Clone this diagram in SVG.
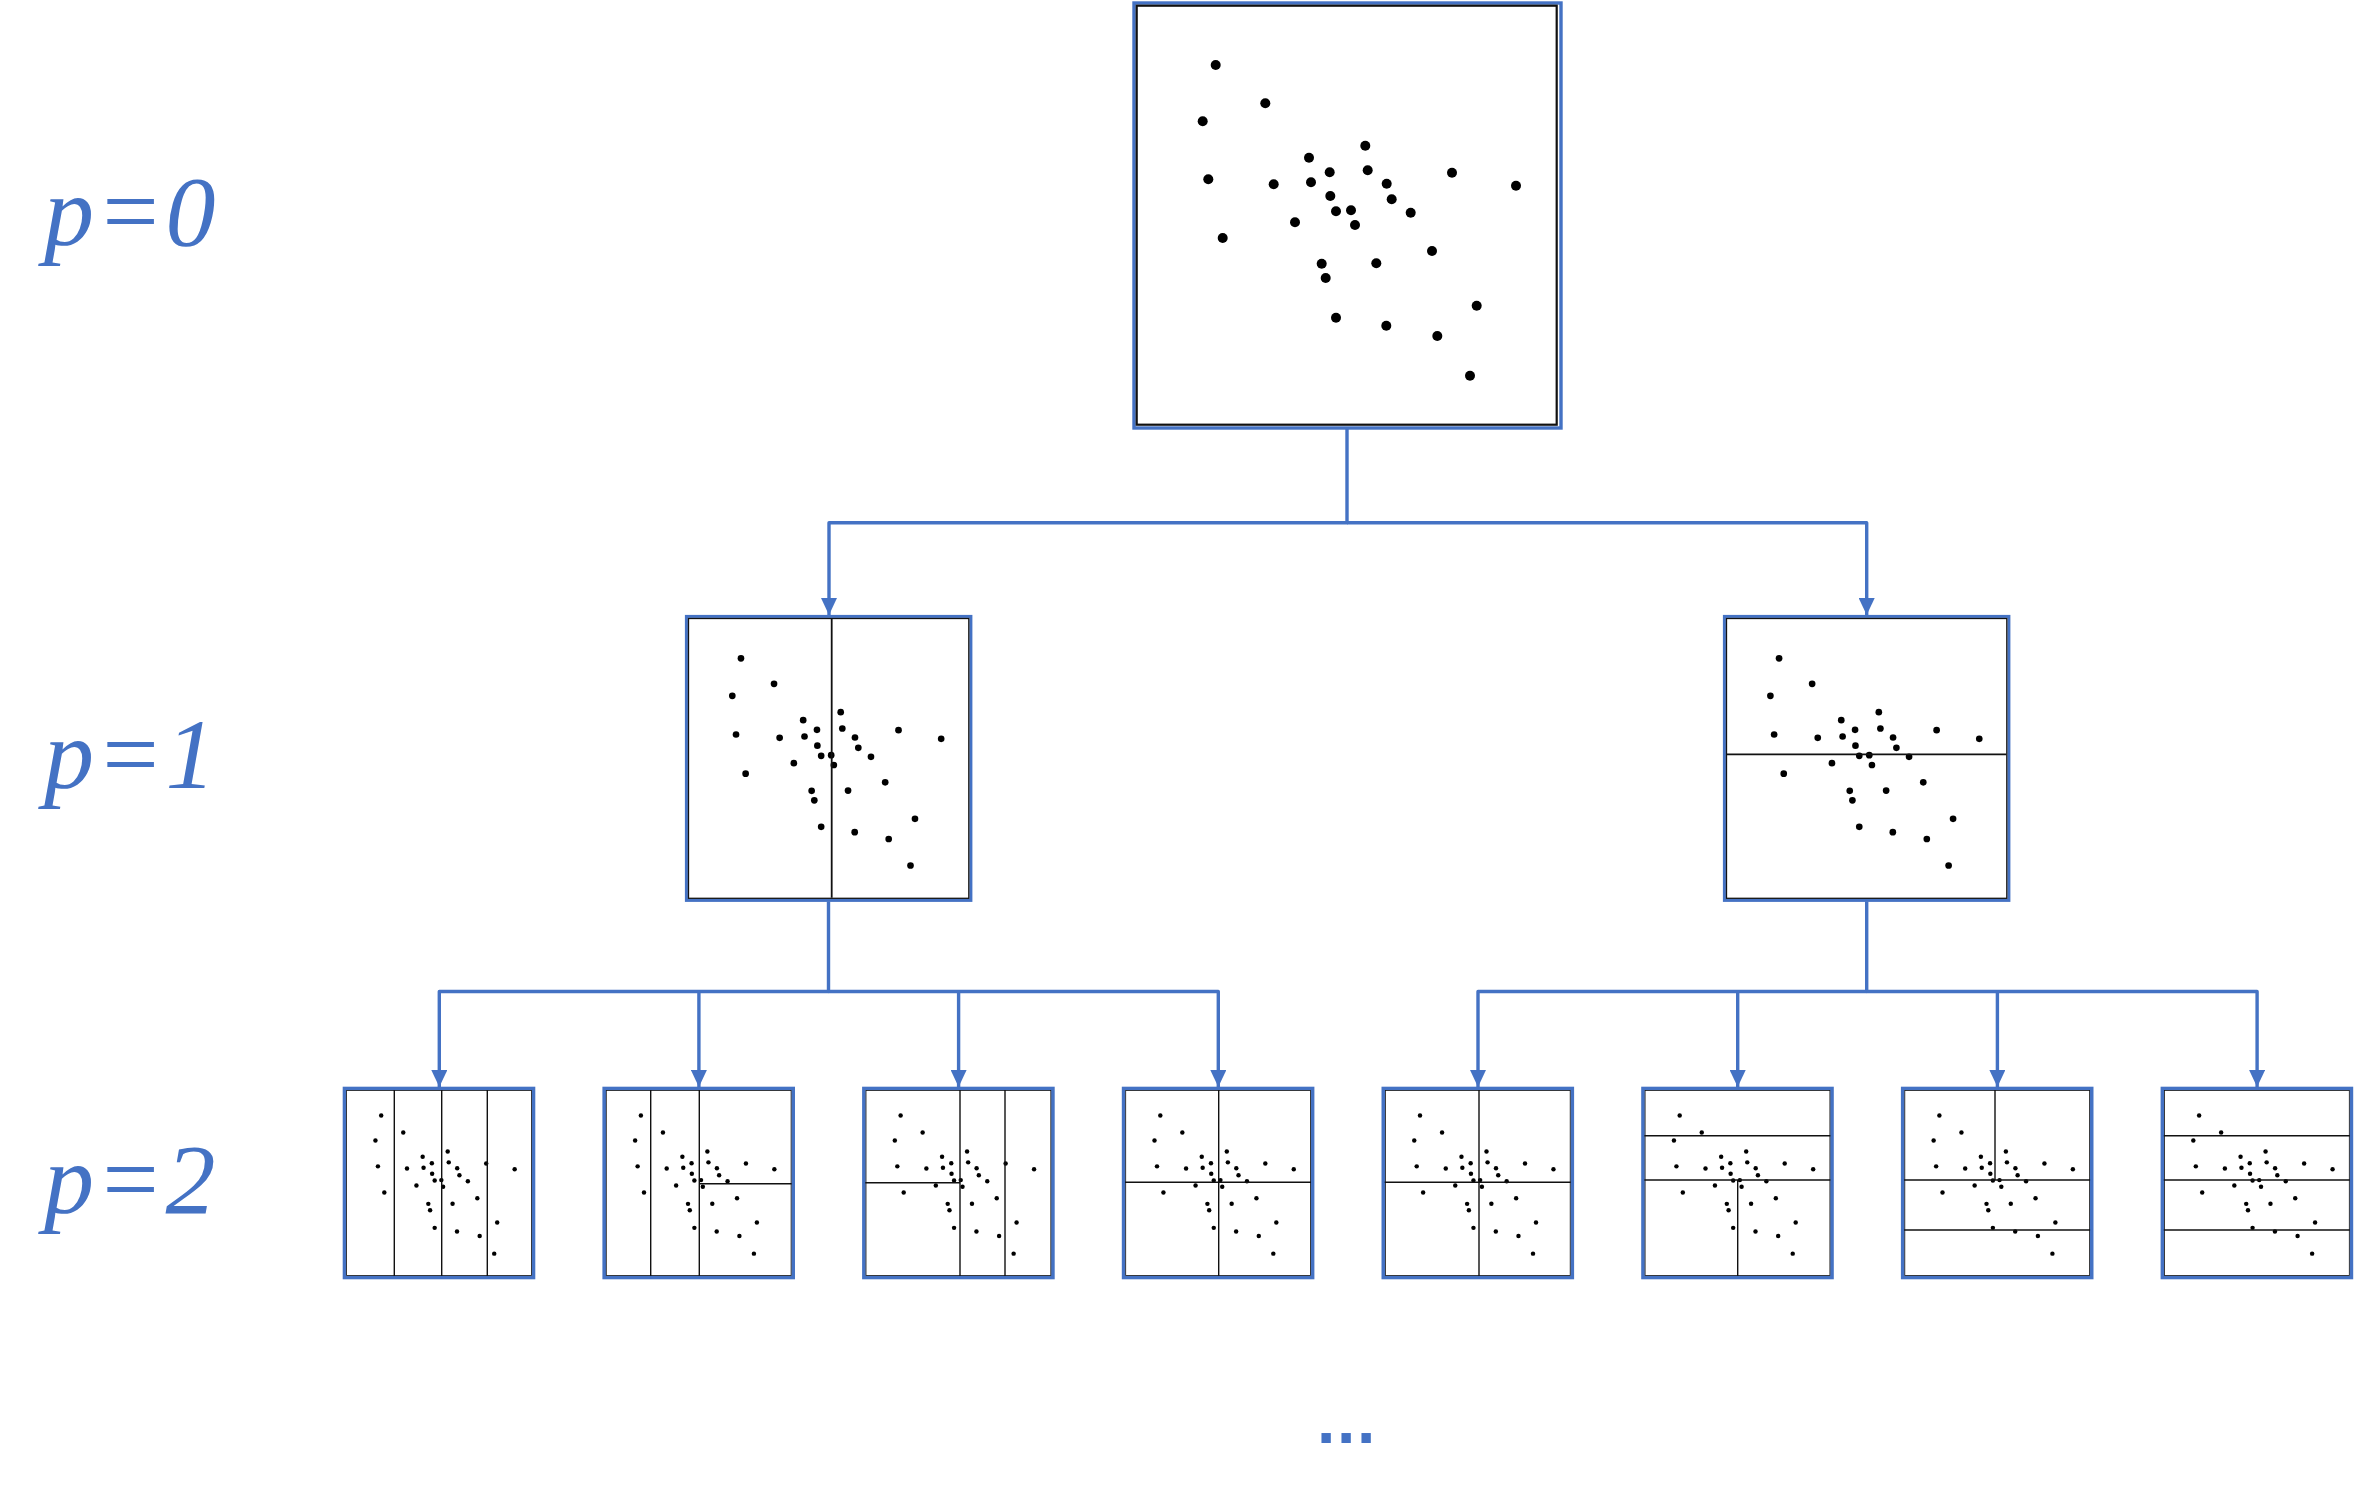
<svg xmlns="http://www.w3.org/2000/svg" width="2354" height="1505" viewBox="0 0 2354 1505">
<style>
.bg{fill:#ffffff}
.frame{fill:#ffffff;stroke:#4472C4}
.inner{fill:none;stroke:#111111}
.split{stroke:#111111;fill:none}
.conn{fill:none;stroke:#4472C4;stroke-width:3.4;stroke-linejoin:round}
.lbl{font-style:italic;font-size:100px;fill:#4472C4;letter-spacing:2px}
.dots{font-weight:bold;font-size:66px;fill:#4472C4;letter-spacing:1.7px}
</style>
<defs>
<marker id="arr" markerUnits="userSpaceOnUse" markerWidth="18" markerHeight="16" refX="17" refY="8" orient="auto">
<path d="M0,0 L17,8 L0,16 z" fill="#4472C4"/>
</marker>
<g id="scatter" fill="#000000">
<circle cx="81.7" cy="62" r="5"/>
<circle cx="131.3" cy="100.3" r="5"/>
<circle cx="68.7" cy="118.3" r="5"/>
<circle cx="175" cy="154.7" r="5"/>
<circle cx="195.7" cy="169.3" r="5"/>
<circle cx="74.3" cy="176.3" r="5"/>
<circle cx="139.7" cy="181.3" r="5"/>
<circle cx="177" cy="179.3" r="5"/>
<circle cx="196.3" cy="193" r="5"/>
<circle cx="202" cy="208.3" r="5"/>
<circle cx="217" cy="207.3" r="5"/>
<circle cx="221" cy="222" r="5"/>
<circle cx="161" cy="219.3" r="5"/>
<circle cx="88.7" cy="235" r="5"/>
<circle cx="187.7" cy="260.7" r="5"/>
<circle cx="191.7" cy="275" r="5"/>
<circle cx="202" cy="314.7" r="5"/>
<circle cx="231.3" cy="142.7" r="5"/>
<circle cx="233.7" cy="167.3" r="5"/>
<circle cx="318" cy="169.7" r="5"/>
<circle cx="382" cy="182.7" r="5"/>
<circle cx="252.7" cy="180.7" r="5"/>
<circle cx="257.7" cy="196.3" r="5"/>
<circle cx="276.7" cy="209.7" r="5"/>
<circle cx="298" cy="248" r="5"/>
<circle cx="242.3" cy="260.3" r="5"/>
<circle cx="342.7" cy="302.7" r="5"/>
<circle cx="252.3" cy="322.7" r="5"/>
<circle cx="303.3" cy="333" r="5"/>
<circle cx="336" cy="372.7" r="5"/>
</g>
</defs>
<rect class="bg" x="0" y="0" width="2354" height="1505"/>

<g id="labels">
<text class="lbl" x="44" y="245" font-family="Liberation Serif, serif">p=0</text>
<text class="lbl" x="44" y="788" font-family="Liberation Serif, serif">p=1</text>
<text class="lbl" x="44" y="1213" font-family="Liberation Serif, serif">p=2</text>
</g>

<g id="connectors">
<path class="conn" d="M1347 428 V522.7 H829 V615" marker-end="url(#arr)"/>
<path class="conn" d="M1347 522.7 H1866.7 V615" marker-end="url(#arr)"/>
<path class="conn" d="M828.5 901.5 V991.5 H439.3 V1087" marker-end="url(#arr)"/>
<path class="conn" d="M698.9 991.5 V1087" marker-end="url(#arr)"/>
<path class="conn" d="M958.6 991.5 V1087" marker-end="url(#arr)"/>
<path class="conn" d="M828.5 991.5 H1218.3 V1087" marker-end="url(#arr)"/>
<path class="conn" d="M1866.7 901.5 V991.5 H1478 V1087" marker-end="url(#arr)"/>
<path class="conn" d="M1737.7 991.5 V1087" marker-end="url(#arr)"/>
<path class="conn" d="M1997.4 991.5 V1087" marker-end="url(#arr)"/>
<path class="conn" d="M1866.7 991.5 H2257.1 V1087" marker-end="url(#arr)"/>
</g>

<g id="node-p0">
<rect class="frame" x="1134" y="3" width="427" height="425" stroke-width="3.4"/>
<rect class="inner" x="1136.7" y="5.7" width="420" height="419" stroke-width="2.2"/>
<use href="#scatter" transform="translate(1134,3)"/>
</g>

<g id="node-p1-a">
<rect class="frame" x="686.4" y="616.4" width="284.5" height="284" stroke-width="3"/>
<rect class="inner" x="688.5" y="618.5" width="280.3" height="279.8" stroke-width="1.3"/>
<use href="#scatter" transform="translate(686.5,617) scale(0.6667)"/>
<line class="split" x1="831.7" y1="618.7" x2="831.7" y2="897.8" stroke-width="1.8"/>
</g>

<g id="node-p1-b">
<rect class="frame" x="1724.4" y="616.4" width="284.5" height="284" stroke-width="3"/>
<rect class="inner" x="1726.5" y="618.5" width="280.3" height="279.8" stroke-width="1.3"/>
<use href="#scatter" transform="translate(1724.6,617) scale(0.6667)"/>
<line class="split" x1="1726.7" y1="754.3" x2="2006.3" y2="754.3" stroke-width="1.8"/>
</g>

<g id="node-p2-1">
<rect class="frame" x="344.5" y="1088.5" width="189" height="189" stroke-width="3.6"/>
<rect class="inner" x="346.6" y="1090.6" width="184.8" height="184.8" stroke-width="0.8"/>
<use href="#scatter" transform="translate(344.9,1088) scale(0.4444)"/>
<g class="split" stroke-width="1.4">
<line x1="394.3" y1="1090" x2="394.3" y2="1276"/>
<line x1="441.7" y1="1090" x2="441.7" y2="1276"/>
<line x1="487.3" y1="1090" x2="487.3" y2="1276"/>
</g>
</g>

<g id="node-p2-2">
<rect class="frame" x="604.2" y="1088.5" width="189" height="189" stroke-width="3.6"/>
<rect class="inner" x="606.3" y="1090.6" width="184.8" height="184.8" stroke-width="0.8"/>
<use href="#scatter" transform="translate(604.6,1088) scale(0.4444)"/>
<g class="split" stroke-width="1.4">
<line x1="650.7" y1="1090" x2="650.7" y2="1276"/>
<line x1="699.3" y1="1090" x2="699.3" y2="1276"/>
<line x1="699.3" y1="1183.7" x2="791.6" y2="1183.7"/>
</g>
</g>

<g id="node-p2-3">
<rect class="frame" x="863.9" y="1088.5" width="189" height="189" stroke-width="3.6"/>
<rect class="inner" x="866" y="1090.6" width="184.8" height="184.8" stroke-width="0.8"/>
<use href="#scatter" transform="translate(864.3,1088) scale(0.4444)"/>
<g class="split" stroke-width="1.4">
<line x1="960" y1="1090" x2="960" y2="1276"/>
<line x1="1005" y1="1090" x2="1005" y2="1276"/>
<line x1="865.3" y1="1182.7" x2="960" y2="1182.7"/>
</g>
</g>

<g id="node-p2-4">
<rect class="frame" x="1123.6" y="1088.5" width="189" height="189" stroke-width="3.6"/>
<rect class="inner" x="1125.7" y="1090.6" width="184.8" height="184.8" stroke-width="0.8"/>
<use href="#scatter" transform="translate(1124,1088) scale(0.4444)"/>
<g class="split" stroke-width="1.4">
<line x1="1218.7" y1="1090" x2="1218.7" y2="1276"/>
<line x1="1125" y1="1182.3" x2="1311" y2="1182.3"/>
</g>
</g>

<g id="node-p2-5">
<rect class="frame" x="1383.3" y="1088.5" width="189" height="189" stroke-width="3.6"/>
<rect class="inner" x="1385.4" y="1090.6" width="184.8" height="184.8" stroke-width="0.8"/>
<use href="#scatter" transform="translate(1383.7,1088) scale(0.4444)"/>
<g class="split" stroke-width="1.4">
<line x1="1479" y1="1090" x2="1479" y2="1276"/>
<line x1="1384.7" y1="1182.3" x2="1570.7" y2="1182.3"/>
</g>
</g>

<g id="node-p2-6">
<rect class="frame" x="1643" y="1088.5" width="189" height="189" stroke-width="3.6"/>
<rect class="inner" x="1645.1" y="1090.6" width="184.8" height="184.8" stroke-width="0.8"/>
<use href="#scatter" transform="translate(1643.4,1088) scale(0.4444)"/>
<g class="split" stroke-width="1.4">
<line x1="1644.4" y1="1135.7" x2="1830.4" y2="1135.7"/>
<line x1="1644.4" y1="1180" x2="1830.4" y2="1180"/>
<line x1="1737.7" y1="1180" x2="1737.7" y2="1276"/>
</g>
</g>

<g id="node-p2-7">
<rect class="frame" x="1902.7" y="1088.5" width="189" height="189" stroke-width="3.6"/>
<rect class="inner" x="1904.8" y="1090.6" width="184.8" height="184.8" stroke-width="0.8"/>
<use href="#scatter" transform="translate(1903.1,1088) scale(0.4444)"/>
<g class="split" stroke-width="1.4">
<line x1="1995" y1="1090" x2="1995" y2="1180"/>
<line x1="1904.1" y1="1180" x2="2090.1" y2="1180"/>
<line x1="1904.1" y1="1230" x2="2090.1" y2="1230"/>
</g>
</g>

<g id="node-p2-8">
<rect class="frame" x="2162.4" y="1088.5" width="189" height="189" stroke-width="3.6"/>
<rect class="inner" x="2164.5" y="1090.6" width="184.8" height="184.8" stroke-width="0.8"/>
<use href="#scatter" transform="translate(2162.8,1088) scale(0.4444)"/>
<g class="split" stroke-width="1.4">
<line x1="2163.8" y1="1135.7" x2="2349.8" y2="1135.7"/>
<line x1="2163.8" y1="1180" x2="2349.8" y2="1180"/>
<line x1="2163.8" y1="1230" x2="2349.8" y2="1230"/>
</g>
</g>

<g id="ellipsis">
<text class="dots" x="1317" y="1443" font-family="Liberation Sans, sans-serif">...</text>
</g>
</svg>
